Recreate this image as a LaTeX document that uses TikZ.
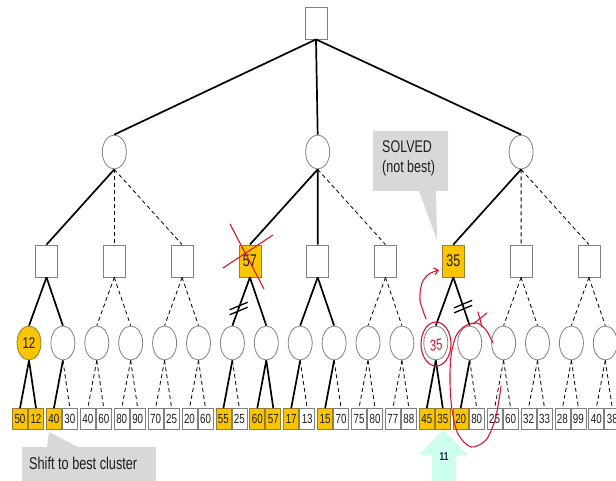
\documentclass[tikz,border=0pt]{standalone}
\usepackage{fontspec}
\usepackage{graphicx}
\setmainfont{Liberation Sans}
\usetikzlibrary{shapes.geometric,arrows.meta}

\definecolor{nodegray}{RGB}{128,128,128}
\definecolor{gold}{RGB}{250,196,0}
\definecolor{goldedge}{RGB}{150,125,50}
\definecolor{ink}{RGB}{212,24,52}
\definecolor{callout}{RGB}{216,216,216}
\definecolor{mint}{RGB}{204,255,236}
\definecolor{navy}{RGB}{30,40,70}
\definecolor{txt}{RGB}{30,30,30}

% slides were stretched vertically, so the lettering is too
\newcommand{\tall}[1]{\scalebox{1}[1.35]{#1}}

\begin{document}
\begin{tikzpicture}[x=1pt,y=-1pt,
  sqnode/.style={rectangle,draw=nodegray,line width=0.8pt,fill=white,
    minimum width=22pt,minimum height=32pt,inner sep=0pt,text=txt,
    font=\fontsize{12.5}{14}\selectfont},
  circnode/.style={ellipse,draw=nodegray,line width=0.8pt,fill=white,
    minimum width=24pt,minimum height=34pt,inner sep=0pt,text=txt,
    font=\fontsize{11.5}{13}\selectfont},
  leafnode/.style={rectangle,draw=nodegray,line width=0.7pt,fill=white,
    minimum width=15pt,minimum height=21pt,inner sep=0pt,text=txt,
    font=\fontsize{9.8}{11}\selectfont},
  best/.style={fill=gold,draw=goldedge},
  norm/.style={},
  hard/.style={draw=black,line width=1.7pt},
  soft/.style={draw=black,line width=0.8pt,dash pattern=on 4pt off 3pt},
  tick/.style={draw=black,line width=1.3pt},
  pen/.style={draw=ink,line width=1.1pt,line cap=round,line join=round},
]
\useasboundingbox (0,0) rectangle (616,481);
\clip (0,0) rectangle (616,481);
\fill[white] (0,0) rectangle (616,481);

% ---- nodes ----
\node[sqnode] (root) at (316,23) {};
\foreach \i in {1,2,3}
  \node[circnode] (c\i) at ({114.3+203.4*(\i-1)},152) {};

\foreach \i in {1,2,3,5,6,8,9}
  \node[sqnode] (s\i) at ({46.5+67.8*(\i-1)},261) {};
\node[sqnode,best] (s4) at (249.9,261) {\tall{57}};
\node[sqnode,best] (s7) at (453.3,261) {\tall{35}};

\node[circnode,best] (k1) at (29,343) {\tall{12}};
\foreach \i in {2,...,18}
  \node[circnode] (k\i) at ({29+33.9*(\i-1)},343) {};

% ---- connectors between the upper levels ----
\foreach \i in {1,2,3}
  \draw[hard] (root.south) -- (c\i.north);

\draw[hard] (c1.south) -- (s1.north);
\draw[soft] (c1.south) -- (s2.north);
\draw[soft] (c1.south) -- (s3.north);
\draw[hard] (c2.south) -- (s4.north);
\draw[hard] (c2.south) -- (s5.north);
\draw[soft] (c2.south) -- (s6.north);
\draw[hard] (c3.south) -- (s7.north);
\draw[soft] (c3.south) -- (s8.north);
\draw[soft] (c3.south) -- (s9.north);

\foreach \e [count=\i] in {hard,soft,soft,hard,hard,soft,hard,soft,soft}{
  \pgfmathtruncatemacro\a{2*\i-1}
  \pgfmathtruncatemacro\b{2*\i}
  \draw[\e] (s\i.south) -- (k\a.north);
  \draw[\e] (s\i.south) -- (k\b.north);
}

% ---- leaves ----
\foreach \v/\f/\e [count=\j] in {50/best/hard,12/best/hard,40/best/hard,30/norm/soft,
  40/norm/soft,60/norm/soft,80/norm/soft,90/norm/soft,70/norm/soft,25/norm/soft,
  20/norm/soft,60/norm/soft,55/best/hard,25/norm/soft,60/best/hard,57/best/hard,
  17/best/hard,13/norm/soft,15/best/hard,70/norm/soft,75/norm/soft,80/norm/soft,
  77/norm/soft,88/norm/soft,45/best/hard,35/best/hard,20/best/hard,80/norm/soft,
  25/norm/soft,60/norm/soft,32/norm/soft,33/norm/soft,28/norm/soft,99/norm/soft,
  40/norm/soft,38/norm/soft}{
  \pgfmathtruncatemacro\p{(\j+1)/2}
  \pgfmathsetmacro\lx{28+33.9*(\p-1)+16*(1-mod(\j,2))-8}
  \node[leafnode,\f] (l\j) at (\lx,419) {\tall{\v}};
  \draw[\e] (k\p.south) -- (l\j.north);
}

% ---- cut marks on pruned branches ----
\path (s4.south) -- (k7.north) coordinate[pos=0.64] (cutA);
\draw[tick] ([shift={(-9,1.5)}]cutA) -- ([shift={(9,-6)}]cutA);
\draw[tick] ([shift={(-9,6.5)}]cutA) -- ([shift={(9,-1)}]cutA);
\path (s7.south) -- (k14.north) coordinate[pos=0.6] (cutB);
\draw[tick] ([shift={(-9,1.5)}]cutB) -- ([shift={(9,-6)}]cutB);
\draw[tick] ([shift={(-9,6.5)}]cutB) -- ([shift={(9,-1)}]cutB);

% ---- callouts ----
\fill[callout] (373,131) -- (448,131) -- (448,191) -- (436,191) -- (437,240)
  -- (419,191) -- (373,191) -- cycle;
\node[anchor=base west,inner sep=0pt,text=txt,font=\fontsize{12.5}{14}\selectfont]
  (solvedA) at (382,153) {\tall{SOLVED}};
\node[anchor=base west,inner sep=0pt,text=txt,font=\fontsize{12.5}{14}\selectfont]
  (solvedB) at (382,173) {\tall{(not best)}};

\fill[callout] (22,447) -- (47,447) -- (49,432) -- (78,447) -- (156,447)
  -- (156,490) -- (22,490) -- cycle;
\node[anchor=base west,inner sep=0pt,text=txt,font=\fontsize{12.7}{14}\selectfont]
  (shift) at (29,469) {\tall{Shift to best cluster}};

\fill[mint] (443,430) -- (468,455) -- (456,455) -- (456,490) -- (432,490)
  -- (432,455) -- (419,455) -- cycle;
\node[inner sep=0pt,text=navy,font=\bfseries\fontsize{8.5}{10}\selectfont]
  (eleven) at (444,457) {\tall{11}};

% ---- pen marks ----
\draw[pen] (230,224) -- (264,289);
\draw[pen] (223,268) -- (273,235);

\draw[pen] (436,344) ellipse [x radius=15, y radius=22];
\node[inner sep=0pt,text=ink,font=\itshape\fontsize{11.5}{13}\selectfont,rotate=10]
  (hand) at (436,345) {\tall{35}};
\draw[pen,-{Straight Barb[length=4pt,width=7pt]}]
  plot[smooth] coordinates {(426,319) (420,300) (422,283) (429,274) (439,270)};

\draw[pen] plot[smooth] coordinates {(493,343) (486,330) (477,323) (465,326)
  (456,336) (451,356) (450,382) (452,410) (458,434) (471,447) (486,440)
  (495,420) (499,400) (501,386)};
\draw[pen] (473,324) -- (487,313);
\draw[pen] (478,312) -- (482,327);
\end{tikzpicture}
\end{document}
